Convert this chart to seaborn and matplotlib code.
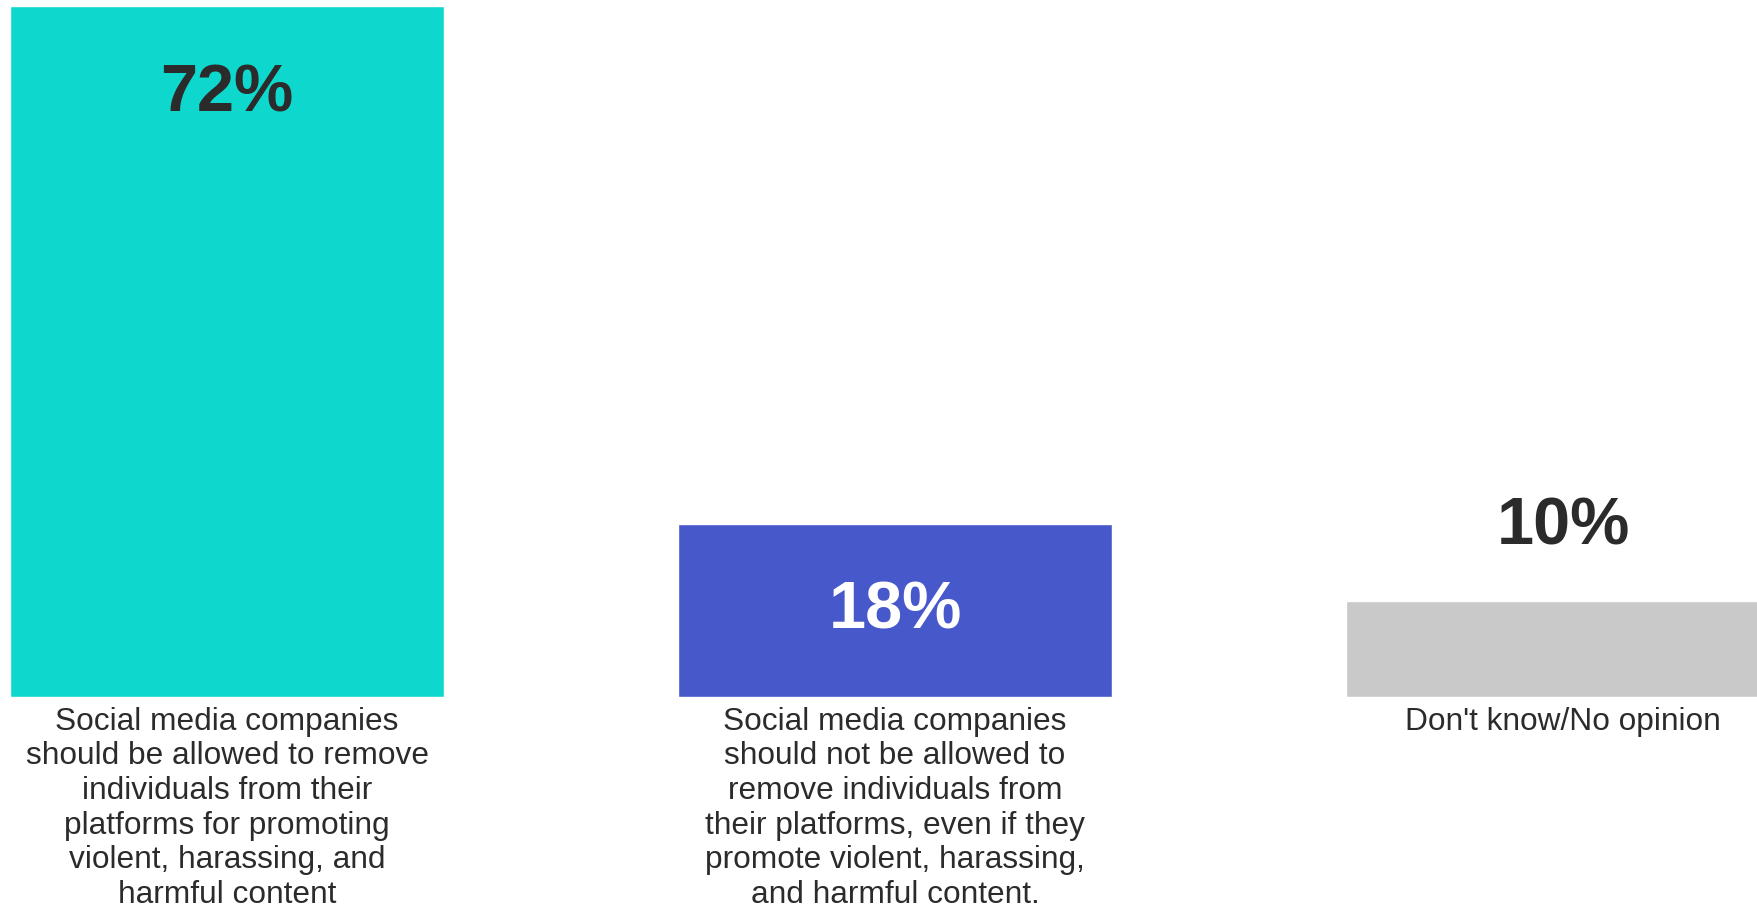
import matplotlib
matplotlib.use("Agg")
import matplotlib.pyplot as plt
import seaborn as sns
import pandas as pd

# Survey responses (percent)
categories = [
    "Social media companies\nshould be allowed to remove\nindividuals from their\nplatforms for promoting\nviolent, harassing, and\nharmful content",
    "Social media companies\nshould not be allowed to\nremove individuals from\ntheir platforms, even if they\npromote violent, harassing,\nand harmful content.",
    "Don't know/No opinion",
]
values = [72, 18, 10]
value_labels = ["72%", "18%", "10%"]
bar_colors = ["#0ED8CE", "#4758CB", "#C9C9C9"]
label_colors = ["#2B2B2B", "#FFFFFF", "#2B2B2B"]

sns.set_theme(style="white")
plt.rcParams["font.family"] = ["Liberation Sans", "DejaVu Sans"]

W, H, DPI = 1758, 907, 100
fig = plt.figure(figsize=(W / DPI, H / DPI), dpi=DPI)
ax_bottom_px = 697
ax = fig.add_axes([0, (H - ax_bottom_px) / H, 1, ax_bottom_px / H])

df = pd.DataFrame({"category": categories, "value": values})
sns.barplot(data=df, x="category", y="value", hue="category",
            palette=bar_colors, width=0.65, saturation=1, legend=False, ax=ax)

ax.set_xlim(-0.34, 2.292)
ax.set_ylim(0, 72.63)
sns.despine(ax=ax, left=True, bottom=True)
ax.set_yticks([])
ax.set_xlabel("")
ax.set_ylabel("")
ax.tick_params(axis="x", length=0, pad=7, labelsize=22.8, labelcolor="#2B2B2B")
for t in ax.get_xticklabels():
    t.set_linespacing(1.2)

# Value labels: inside top, centered, and above the bar respectively
offsets = [(0, -64), (0, -0.6), (0, 53.3)]
anchors = [values[0], values[1] / 2, values[2]]
for i, (lab, col) in enumerate(zip(value_labels, label_colors)):
    ax.annotate(lab, (i, anchors[i]), xytext=offsets[i], textcoords="offset points",
                ha="center", va="center", fontsize=48, fontweight="bold", color=col)

fig.savefig("out.png", dpi=DPI)
